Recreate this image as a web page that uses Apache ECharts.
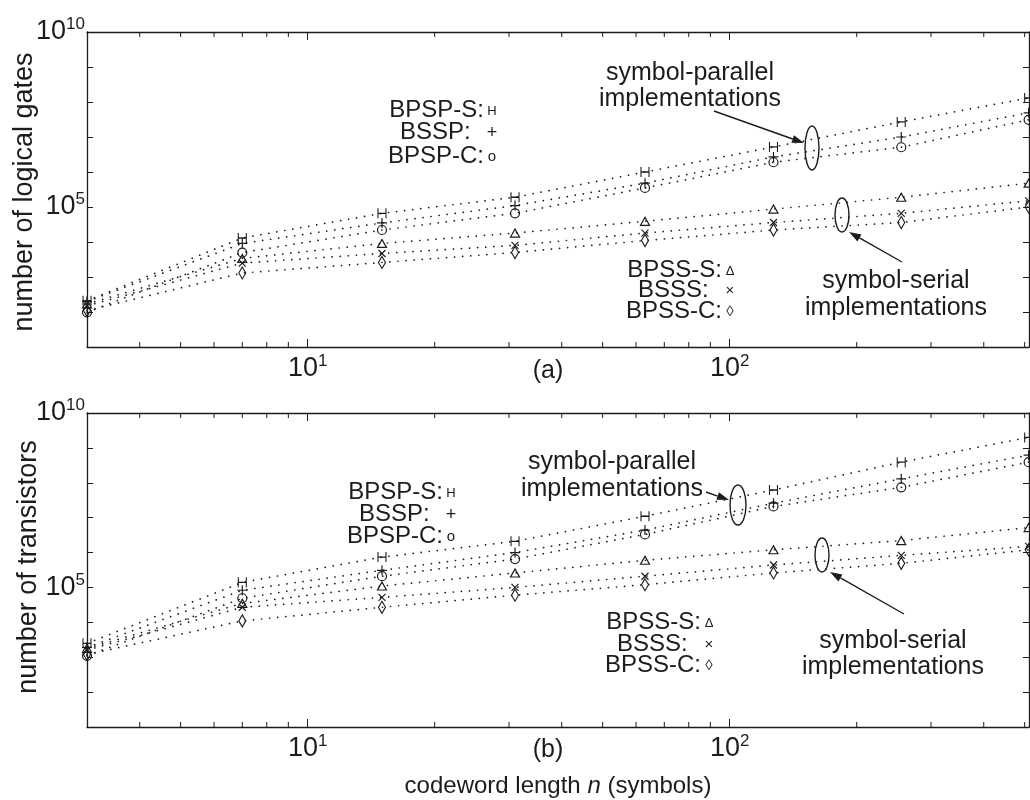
<!DOCTYPE html>
<html><head><meta charset="utf-8">
<script src="https://cdn.jsdelivr.net/npm/echarts@6/dist/echarts.min.js"></script>
<style>html,body{margin:0;padding:0;background:#fff}#c{width:1030px;height:800px}</style>
</head><body><div id="c"></div>
<script>
// ---- data ----
const codewordLength = [3, 7, 15, 31, 63, 127, 255, 511];
const seriesNames = ['BPSP-S', 'BSSP', 'BPSP-C', 'BPSS-S', 'BSSS', 'BPSS-C'];
// (a) number of logical gates
const gatesBPSPS = [2.1e2, 1.3e4, 6.6e4, 1.9e5, 1.0e6, 5.2e6, 2.7e7, 1.3e8];
const gatesBSSP  = [2.0e2, 9.1e3, 3.5e4, 1.1e5, 4.8e5, 2.7e6, 1.0e7, 4.9e7];
const gatesBPSPC = [9.8e1, 5.0e3, 2.2e4, 6.6e4, 3.5e5, 1.9e6, 5.1e6, 3.1e7];
const gatesBPSSS = [1.7e2, 3.4e3, 9.1e3, 1.8e4, 3.9e4, 8.7e4, 1.9e5, 4.8e5];
const gatesBSSS  = [1.5e2, 2.5e3, 4.7e3, 8.0e3, 1.8e4, 3.6e4, 6.6e4, 1.5e5];
const gatesBPSSC = [1.1e2, 1.3e3, 2.6e3, 5.0e3, 1.1e4, 2.2e4, 3.6e4, 1.0e5];
// (b) number of transistors
const transBPSPS = [2.5e3, 1.4e5, 7.4e5, 2.1e6, 1.1e7, 6.2e7, 3.9e8, 2.0e9];
const transBSSP  = [1.9e3, 8.3e4, 3.1e5, 1.0e6, 4.4e6, 2.6e7, 1.3e8, 6.2e8];
const transBPSPC = [1.1e3, 4.9e4, 2.1e5, 6.5e5, 3.3e6, 2.1e7, 7.4e7, 3.9e8];
const transBPSSS = [1.8e3, 3.5e4, 1.1e5, 2.6e5, 6.0e5, 1.2e6, 2.2e6, 5.2e6];
const transBSSS  = [1.6e3, 2.7e4, 5.2e4, 1.0e5, 2.1e5, 4.4e5, 8.3e5, 1.5e6];
const transBPSSC = [1.2e3, 1.1e4, 2.7e4, 6.0e4, 1.2e5, 2.6e5, 4.9e5, 1.2e6];
// axis ticks
const xMinorTicks = [4, 5, 6, 7, 8, 9, 20, 30, 40, 50, 60, 70, 80, 90, 200, 300, 400, 500];
const xLabelledTicks = [10, 100];
const yLabelledTicks = [1e5, 1e10];

// ---- chart ----
const INK = '#1c1c1c';
const FONT = '"Liberation Sans", Arial, Helvetica, sans-serif';
const TXT = 25;
const chart = echarts.init(document.getElementById('c'), null, {renderer: 'canvas'});

const grids = [
  {left: 87, top: 32, width: 942, height: 315},
  {left: 87, top: 413, width: 942, height: 314}
];
const panelData = [
  [gatesBPSPS, gatesBSSP, gatesBPSPC, gatesBPSSS, gatesBSSS, gatesBPSSC],
  [transBPSPS, transBSSP, transBPSPC, transBPSSS, transBSSS, transBPSSC]
];
const markers = [
  {symbol: 'path://M0,0V10M0,5H7M7,0V10', size: [8, 10]},
  {symbol: 'path://M5,0V10M0,5H10', size: [10, 10]},
  {symbol: 'path://M0,5A5,5,0,1,1,10,5A5,5,0,1,1,0,5Z', size: [9, 9]},
  {symbol: 'path://M5,0L10,9L0,9Z', size: [9, 8]},
  {symbol: 'path://M0,0L10,10M10,0L0,10', size: [7, 7]},
  {symbol: 'path://M4,0L8,7L4,14L0,7Z', size: [7, 12]}
];

function isIn(list, v) { return list.some(t => Math.abs(Math.log10(t) - Math.log10(v)) < 1e-6); }
const rich = {
  b: {fontSize: 27, fontFamily: FONT, color: INK, lineHeight: 32},
  s: {fontSize: 17, fontFamily: FONT, color: INK, verticalAlign: 'top', lineHeight: 15}
};
function supFmt(list) {
  return function (v) {
    if (!isIn(list, v)) return '';
    return '{b|10}{s|' + Math.round(Math.log10(v)) + '}';
  };
}

const xAxes = [], yAxes = [], series = [];
grids.forEach((g, gi) => {
  xAxes.push({
    type: 'log', logBase: 10, gridIndex: gi, min: 3, max: 512, position: 'bottom',
    axisLine: {show: true, lineStyle: {color: INK, width: 1.3}},
    axisTick: {show: true, inside: true, length: 8, lineStyle: {color: INK}},
    axisLabel: {show: true, formatter: supFmt(xLabelledTicks), rich: rich, margin: 6, showMinLabel: false, showMaxLabel: false},
    splitLine: {show: false}, minorTick: {show: false}
  });
  xAxes.push({
    type: 'log', logBase: 10, gridIndex: gi, min: 3, max: 512, position: 'top',
    axisLine: {show: true, lineStyle: {color: INK, width: 1.3}},
    axisTick: {show: true, inside: true, length: 8, lineStyle: {color: INK}},
    axisLabel: {show: false}, splitLine: {show: false}
  });
  yAxes.push({
    type: 'log', logBase: 10, gridIndex: gi, min: 10, max: 1e10, position: 'left',
    axisLine: {show: true, lineStyle: {color: INK, width: 1.3}},
    axisTick: {show: true, inside: true, length: 6, lineStyle: {color: INK}},
    axisLabel: {show: true, formatter: supFmt(yLabelledTicks), rich: rich, margin: 2},
    splitLine: {show: false}
  });
  yAxes.push({
    type: 'log', logBase: 10, gridIndex: gi, min: 10, max: 1e10, position: 'right',
    axisLine: {show: true, lineStyle: {color: INK, width: 1.3}},
    axisTick: {show: true, inside: true, length: 6, lineStyle: {color: INK}},
    axisLabel: {show: false}, splitLine: {show: false}
  });
  panelData[gi].forEach((vals, si) => {
    series.push({
      type: 'line', name: seriesNames[si] + (gi ? ' (b)' : ' (a)'),
      xAxisIndex: gi * 2, yAxisIndex: gi * 2,
      data: codewordLength.map((n, i) => [n, vals[i]]),
      symbol: markers[si].symbol, symbolSize: markers[si].size, showSymbol: true,
      itemStyle: {color: 'none', borderColor: INK, borderWidth: 1.2},
      lineStyle: {color: INK, width: 1.7, type: [0.1, 8], cap: 'round'},
      emphasis: {disabled: true}, silent: true, animation: false, clip: false, z: 3
    });
  });
  series.push({
    type: 'custom', xAxisIndex: gi * 2, yAxisIndex: gi * 2, silent: true, animation: false, clip: false,
    data: xMinorTicks.map(v => [v]),
    encode: {x: 0},
    renderItem: function (params, api) {
      const v = api.value(0);
      const pb = api.coord([v, 10]);
      const pt = api.coord([v, 1e10]);
      return {type: 'group', children: [
        {type: 'line', shape: {x1: pb[0], y1: pb[1], x2: pb[0], y2: pb[1] - 5}, style: {stroke: INK, lineWidth: 1}},
        {type: 'line', shape: {x1: pt[0], y1: pt[1], x2: pt[0], y2: pt[1] + 5}, style: {stroke: INK, lineWidth: 1}}
      ]};
    }
  });
});

// ---- annotations ----
function txt(x, y, s, size, align) {
  return {type: 'text', x: x, y: y, silent: true, z: 10,
    style: {text: s, font: (size || TXT) + 'px ' + FONT, fill: INK, textAlign: align || 'center', textVerticalAlign: 'middle'}};
}
function ell(cx, cy, rx, ry) {
  return {type: 'ellipse', silent: true, z: 10, shape: {cx: cx, cy: cy, rx: rx, ry: ry}, style: {fill: 'none', stroke: INK, lineWidth: 1.4}};
}
function arrow(x1, y1, x2, y2) {
  const a = Math.atan2(y2 - y1, x2 - x1), L = 12, W = 4;
  const bx = x2 - L * Math.cos(a), by = y2 - L * Math.sin(a);
  const px = -Math.sin(a) * W, py = Math.cos(a) * W;
  return [
    {type: 'line', silent: true, z: 10, shape: {x1: x1, y1: y1, x2: bx, y2: by}, style: {stroke: INK, lineWidth: 1.4}},
    {type: 'polygon', silent: true, z: 10, shape: {points: [[x2, y2], [bx + px, by + py], [bx - px, by - py]]}, style: {fill: INK}}
  ];
}
function legendBlock(xr, ys, labels, glyphs, glyphSizes) {
  const out = [];
  labels.forEach((l, i) => {
    out.push(txt(xr, ys[i], l, 24, 'right'));
    out.push(txt(xr + 8, ys[i] + 1, glyphs[i], glyphSizes[i], 'center'));
  });
  return out;
}

const graphics = [].concat(
  // panel (a)
  legendBlock(484, [110, 132, 156], ['BPSP-S:', 'BSSP:  ', 'BPSP-C:'], ['H', '+', 'o'], [13, 18, 15]),
  [txt(690, 73, 'symbol-parallel'), txt(690, 99, 'implementations')],
  [ell(812, 148, 7, 22)], arrow(714, 111, 804, 143),
  legendBlock(722, [270, 290, 311], ['BPSS-S:', 'BSSS:  ', 'BPSS-C:'], ['Δ', '×', '◊'], [13, 15, 15]),
  [txt(896, 281, 'symbol-serial'), txt(896, 308, 'implementations')],
  [ell(842, 215, 7, 17)], arrow(902, 262, 849, 232),
  [txt(548, 371, '(a)')],
  // panel (b)
  legendBlock(443, [492, 514, 536], ['BPSP-S:', 'BSSP:  ', 'BPSP-C:'], ['H', '+', 'o'], [13, 18, 15]),
  [txt(612, 462, 'symbol-parallel'), txt(612, 489, 'implementations')],
  [ell(738, 505, 8, 20)], arrow(706, 492, 729, 500),
  legendBlock(701, [622, 644, 665], ['BPSS-S:', 'BSSS:  ', 'BPSS-C:'], ['Δ', '×', '◊'], [13, 15, 15]),
  [txt(893, 641, 'symbol-serial'), txt(893, 667, 'implementations')],
  [ell(822, 555, 7, 17)], arrow(904, 614, 830, 572),
  [txt(548, 750, '(b)')],
  // axis titles
  [{type: 'text', x: 558, y: 786, silent: true,
    style: {text: 'codeword length {i|n} (symbols)', font: '24px ' + FONT, fill: INK, textAlign: 'center', textVerticalAlign: 'middle',
      rich: {i: {fontStyle: 'italic', fontSize: 24, fontFamily: FONT, fill: INK}}}},
   {type: 'text', x: 25, y: 192, rotation: Math.PI / 2, silent: true,
    style: {text: 'number of logical gates', font: '27px ' + FONT, fill: INK, textAlign: 'center', textVerticalAlign: 'middle'}},
   {type: 'text', x: 29, y: 567, rotation: Math.PI / 2, silent: true,
    style: {text: 'number of transistors', font: '27px ' + FONT, fill: INK, textAlign: 'center', textVerticalAlign: 'middle'}}]
);

chart.setOption({
  backgroundColor: '#fff',
  animation: false,
  grid: grids.map(g => Object.assign({containLabel: false, show: false}, g)),
  xAxis: xAxes,
  yAxis: yAxes,
  series: series,
  graphic: {elements: graphics}
});
</script>
</body></html>
